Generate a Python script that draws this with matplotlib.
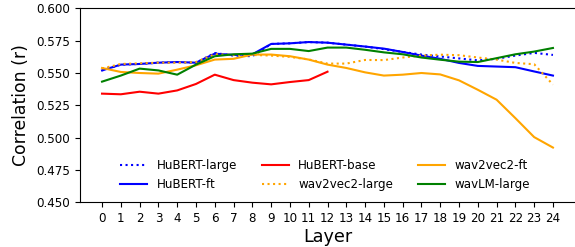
import matplotlib
matplotlib.use("Agg")
import matplotlib.pyplot as plt
import numpy as np

LAYERS = np.arange(25)

HUBERT_LARGE = [0.552, 0.5565, 0.557, 0.558, 0.5585, 0.558, 0.5655, 0.5635, 0.563,
                0.5725, 0.573, 0.574, 0.5735, 0.572, 0.5705, 0.5685, 0.5663, 0.5643,
                0.5628, 0.5613, 0.5598, 0.561, 0.5635, 0.5656, 0.564]
HUBERT_FT = [0.552, 0.5565, 0.557, 0.558, 0.5585, 0.558, 0.565, 0.564, 0.5645,
             0.5725, 0.573, 0.574, 0.5735, 0.572, 0.5705, 0.5689, 0.5663, 0.5635,
             0.561, 0.5578, 0.5555, 0.555, 0.5545, 0.5512, 0.548]
HUBERT_BASE = [0.534, 0.5335, 0.5355, 0.534, 0.5365, 0.5415, 0.5487, 0.5445,
               0.5425, 0.5412, 0.543, 0.5445, 0.5510]
W2V2_LARGE = [0.5535, 0.557, 0.5575, 0.558, 0.558, 0.5585, 0.5645, 0.564, 0.564,
              0.5635, 0.5625, 0.5605, 0.5573, 0.5573, 0.5601, 0.56, 0.562, 0.5635,
              0.5642, 0.5638, 0.562, 0.5604, 0.5578, 0.5568, 0.541]
W2V2_FT = [0.5539, 0.5508, 0.550, 0.5495, 0.5526, 0.556, 0.5604, 0.561, 0.5643,
           0.5643, 0.563, 0.5604, 0.5565, 0.5539, 0.5505, 0.548, 0.5487, 0.550,
           0.5489, 0.5443, 0.537, 0.5293, 0.515, 0.5003, 0.4922]
WAVLM_LARGE = [0.5433, 0.548, 0.5534, 0.552, 0.5487, 0.5565, 0.563, 0.5645, 0.565,
               0.5687, 0.5687, 0.567, 0.5697, 0.5697, 0.568, 0.566, 0.5645, 0.562,
               0.5603, 0.5588, 0.5585, 0.5615, 0.5645, 0.5666, 0.5694]

plt.rcParams["font.family"] = "DejaVu Sans"

fig = plt.figure(figsize=(5.75, 2.47), dpi=100)
ax = fig.add_axes([79.5 / 575, 1 - 202 / 247, 496 / 575, (202 - 8.5) / 247])

lw = 1.5
ax.plot(LAYERS, HUBERT_LARGE, ls=":", color="blue", lw=lw, label="HuBERT-large")
ax.plot(LAYERS, HUBERT_FT, ls="-", color="blue", lw=lw, label="HuBERT-ft")
ax.plot(LAYERS[:len(HUBERT_BASE)], HUBERT_BASE, ls="-", color="red", lw=lw,
        label="HuBERT-base")
ax.plot(LAYERS, W2V2_LARGE, ls=":", color="orange", lw=lw, label="wav2vec2-large")
ax.plot(LAYERS, W2V2_FT, ls="-", color="orange", lw=lw, label="wav2vec2-ft")
ax.plot(LAYERS, WAVLM_LARGE, ls="-", color="green", lw=lw, label="wavLM-large")

ax.set_xlim(-1.2, 25.2)
ax.set_ylim(0.45, 0.60)
ax.spines["right"].set_visible(False)
ax.set_xticks(LAYERS)
ax.set_yticks(np.arange(0.45, 0.6001, 0.025))
ax.yaxis.set_major_formatter(matplotlib.ticker.FormatStrFormatter("%.3f"))
ax.tick_params(labelsize=8.6, length=3.5)
ax.set_xlabel("Layer", fontsize=12.7, labelpad=2)
ax.set_ylabel("Correlation (r)", fontsize=12.4, labelpad=4)

ax.legend(ncol=3, frameon=False, fontsize=8.6, loc="lower left",
          bbox_to_anchor=(0.06, 0.0), handlelength=2.25, columnspacing=2.1,
          labelspacing=0.5)

fig.savefig("out.png", dpi=100)
